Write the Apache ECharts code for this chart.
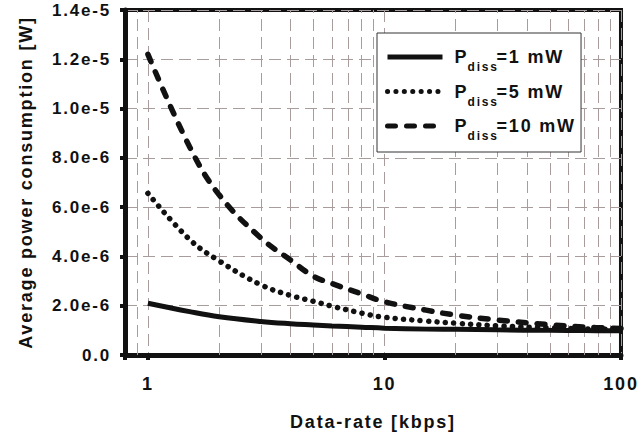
<!DOCTYPE html>
<html>
<head>
<meta charset="utf-8">
<script src="https://cdn.jsdelivr.net/npm/echarts@6/dist/echarts.min.js"></script>
<style>
  html, body { margin: 0; padding: 0; background: #fff; }
  #chart { width: 639px; height: 442px; }
  #chart text { letter-spacing: 1.8px; }
</style>
</head>
<body>
<div id="chart"></div>
<script>
// data-rate in kbps, power in microwatts (axis labels convert to W)
const rates = [1, 1.5, 2, 3, 4, 5, 6, 8, 10, 15, 20, 30, 50, 70, 100];
const pdiss1 = [2.10, 1.76, 1.55, 1.36, 1.27, 1.22, 1.18, 1.13, 1.09, 1.05, 1.04, 1.02, 1.00, 0.99, 0.98];
const pdiss5 = [6.56, 4.69, 3.82, 2.85, 2.42, 2.18, 1.98, 1.70, 1.53, 1.38, 1.29, 1.18, 1.10, 1.06, 1.03];
const pdiss10 = [12.2, 8.45, 6.5, 4.75, 3.86, 3.2, 2.9, 2.48, 2.16, 1.82, 1.62, 1.42, 1.23, 1.13, 1.08];
const legendLabels = ['=1 mW', '=5 mW', '=10 mW'];
const minorGrid = [0.9, 2, 3, 4, 5, 6, 7, 8, 9, 20, 30, 40, 50, 60, 70, 80, 90];

const FONT = "'Liberation Sans', Arial, sans-serif";
const gridColor = '#a89c9c';
const ink = '#111';

const chart = echarts.init(document.getElementById('chart'), null, { renderer: 'svg' });

const mkSeries = (name, vals, style, extra) => Object.assign({
  name,
  type: 'line',
  data: rates.map((r, i) => [r, vals[i]]),
  symbol: 'none',
  smooth: 0.4,
  z: 3,
  lineStyle: Object.assign({ color: ink, width: 5 }, style),
  itemStyle: { color: ink }
}, extra || {});

chart.setOption({
  animation: false,
  grid: {
    left: 125, right: 17, top: 10, bottom: 87,
    show: true, borderColor: ink, borderWidth: 4
  },
  legend: {
    orient: 'vertical',
    left: 377, top: 33,
    itemWidth: 55, itemHeight: 14, itemGap: 9.5,
    padding: [15, 16, 10, 8],
    backgroundColor: '#fff',
    borderColor: '#333', borderWidth: 1,
    // hide the marker ECharts puts in the middle of a line legend icon
    itemStyle: { color: 'rgba(0,0,0,0)', borderColor: 'rgba(0,0,0,0)', borderWidth: 0, opacity: 0 },
    lineStyle: { width: 5 },
    formatter: name => '{p|P}{sub|diss}{p|' + name.replace('Pdiss', '') + '}',
    textStyle: {
      padding: [0, 0, 0, 7],
      rich: {
        p: { fontFamily: FONT, fontWeight: 'bold', fontSize: 18, color: ink, lineHeight: 32, verticalAlign: 'middle' },
        sub: { fontFamily: FONT, fontWeight: 'bold', fontSize: 12, color: ink, lineHeight: 14, verticalAlign: 'bottom', padding: [0, 5, 0, 1] }
      }
    }
  },
  xAxis: {
    type: 'log',
    logBase: 10,
    min: 0.8, max: 100,
    name: 'Data-rate [kbps]',
    nameLocation: 'middle',
    nameGap: 58,
    nameTextStyle: { fontFamily: FONT, fontWeight: 'bold', fontSize: 18, color: ink },
    axisLine: { lineStyle: { color: ink, width: 5 } },
    axisTick: { length: 5, lineStyle: { color: ink, width: 4 } },
    axisLabel: {
      margin: 20,
      fontFamily: FONT, fontWeight: 'bold', fontSize: 18, color: ink,
      formatter: v => Math.abs(Math.log10(v) - Math.round(Math.log10(v))) < 1e-6 ? String(Math.round(v)) : ''
    },
    splitLine: { show: true, lineStyle: { color: gridColor, width: 1, type: [12, 6] } }
  },
  yAxis: {
    type: 'value',
    min: 0, max: 14, interval: 2,
    name: 'Average power consumption [W]',
    nameLocation: 'middle',
    nameGap: 90,
    nameTextStyle: { fontFamily: FONT, fontWeight: 'bold', fontSize: 18, color: ink },
    axisLine: { lineStyle: { color: ink, width: 5 } },
    axisTick: { length: 5, lineStyle: { color: ink, width: 4 } },
    axisLabel: {
      margin: 14,
      fontFamily: FONT, fontWeight: 'bold', fontSize: 17, color: ink,
      formatter: v => v === 0 ? '0.0' : (v * 1e-6).toExponential(1)
    },
    splitLine: { show: true, lineStyle: { color: gridColor, width: 1, type: [12, 6] } }
  },
  series: [
    mkSeries('Pdiss' + legendLabels[0], pdiss1, { type: 'solid' }, {
      markLine: {
        silent: true,
        z: 1,
        symbol: ['none', 'none'],
        label: { show: false },
        lineStyle: { color: gridColor, width: 1, type: [12, 6] },
        emphasis: { disabled: true },
        data: minorGrid.map(v => ({ xAxis: v }))
      }
    }),
    mkSeries('Pdiss' + legendLabels[1], pdiss5, { type: [0.1, 8.3], cap: 'round', width: 5.5 }),
    mkSeries('Pdiss' + legendLabels[2], pdiss10, { type: [8, 11], cap: 'round', width: 5.5 })
  ]
});
</script>
</body>
</html>
